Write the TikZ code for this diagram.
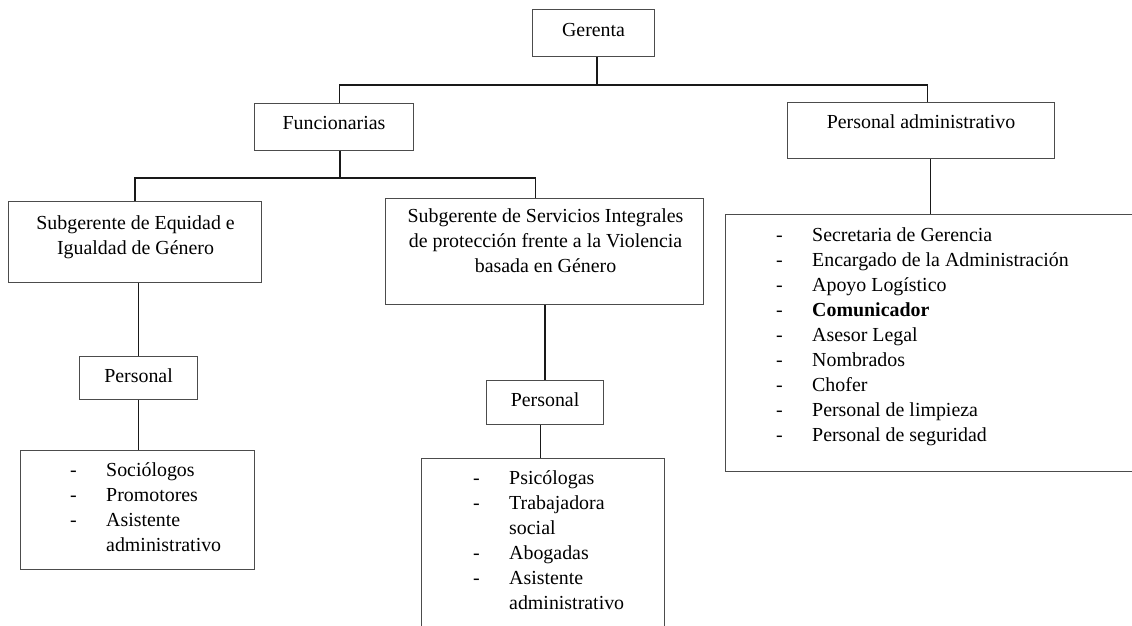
\documentclass[tikz,border=0pt]{standalone}
\usepackage{fontspec}
\setmainfont{Liberation Serif}
\usetikzlibrary{positioning,calc}

\tikzset{
  box/.style={draw=black!70, line width=1.1pt, inner sep=0pt, anchor=north west},
  lbl/.style={inner sep=0pt, anchor=base},
  itm/.style={inner sep=0pt, anchor=base west},
  conn/.style={line width=1.5pt, black!90},
}

\begin{document}
\begin{tikzpicture}[x=1pt,y=-1pt,font=\fontsize{19.9}{25}\selectfont]
  \useasboundingbox (0,0) rectangle (1132,626);
  % boxes, placed by their top left corner (pixel units, y down)
  \node[box,minimum width=122pt,minimum height=47pt]  (ger)  at (532,9)     {};
  \node[box,minimum width=159pt,minimum height=47pt]  (fun)  at (254,102.5) {};
  \node[box,minimum width=267pt,minimum height=56pt]  (adm)  at (787,102)   {};
  \node[box,minimum width=253pt,minimum height=81pt]  (sub1) at (8,201)     {};
  \node[box,minimum width=318pt,minimum height=106pt] (sub2) at (385,198)   {};
  \node[box,minimum width=118pt,minimum height=43pt]  (per1) at (79,356)    {};
  \node[box,minimum width=117pt,minimum height=44pt]  (per2) at (486,380)   {};
  \node[box,minimum width=234pt,minimum height=119pt] (lst1) at (20,450)    {};
  \node[box,minimum width=243pt,minimum height=200pt] (lst2) at (421,458)   {};
  \node[box,minimum width=450pt,minimum height=257.5pt] (lst3) at (725,213.5) {};

  % box titles
  \node[lbl] (gert) at ($(ger.north)+(0,27.5)$)  {Gerenta};
  \node[lbl] (funt) at ($(fun.north)+(0,27)$)    {Funcionarias};
  \node[lbl] (admt) at ($(adm.north)+(0,26.5)$)  {Personal administrativo};
  \node[lbl] (per1t) at ($(per1.north)+(0,26.5)$) {Personal};
  \node[lbl] (per2t) at ($(per2.north)+(0,26.5)$) {Personal};
  \node[inner sep=0pt,anchor=north,align=center] (sub1t) at ($(sub1.north)+(0.5,14)$)
    {Subgerente de Equidad e\\Igualdad de Género};
  \node[inner sep=0pt,anchor=north,align=center] (sub2t) at ($(sub2.north)+(1,10)$)
    {Subgerente de Servicios Integrales\\de protección frente a la Violencia\\basada en Género};

  % connectors
  \coordinate (j1) at (597,85);
  \coordinate (j2) at (340,178);
  \draw[conn] (ger.south -| j1) -- (j1);
  \draw[conn] ([xshift=5.5pt]fun.north) |- (j1) -| ([xshift=6.5pt]adm.north);
  \draw[conn] (fun.south -| j2) -- (j2);
  \draw[conn] (sub1.north) |- (j2) -| ([xshift=-9pt]sub2.north);
  \draw[conn] (per1.north) -- (per1.north |- sub1.south);
  \draw[conn] (per1.south) -- (per1.south |- lst1.north);
  \draw[conn] (per2.north) -- (per2.north |- sub2.south);
  \draw[conn] ([xshift=-4.5pt]per2.south) -- ([xshift=-4.5pt]per2.south |- lst2.north);
  \draw[conn] ([xshift=9.5pt]adm.south) -- ([xshift=9.5pt]adm.south |- lst3.north);

  % list 1
  \foreach \i/\y in {1/476.5,2/501.5,3/526.5}
    \node[itm] (d1-\i) at (70,\y) {-};
  \foreach \i/\y/\t in {1/476.5/Sociólogos,2/501.5/Promotores,3/526.5/Asistente,4/551.5/administrativo}
    \node[itm] (t1-\i) at (106,\y) {\t};
  % list 2
  \foreach \i/\y in {1/484,2/509,4/559,5/584}
    \node[itm] (d2-\i) at (473,\y) {-};
  \foreach \i/\y/\t in {1/484/Psicólogas,2/509/Trabajadora,3/534/social,4/559/Abogadas,5/584/Asistente,6/609/administrativo}
    \node[itm] (t2-\i) at (509,\y) {\t};
  % list 3
  \foreach \i/\t in {0/Secretaria de Gerencia,1/Encargado de la Administración,2/Apoyo Logístico,3/{\textbf{Comunicador}},4/Asesor Legal,5/Nombrados,6/Chofer,7/Personal de limpieza,8/Personal de seguridad}{
    \node[itm] (d3-\i) at (776,241.5+25*\i) {-};
    \node[itm] (t3-\i) at (812,241.5+25*\i) {\t};
  }
\end{tikzpicture}
\end{document}
